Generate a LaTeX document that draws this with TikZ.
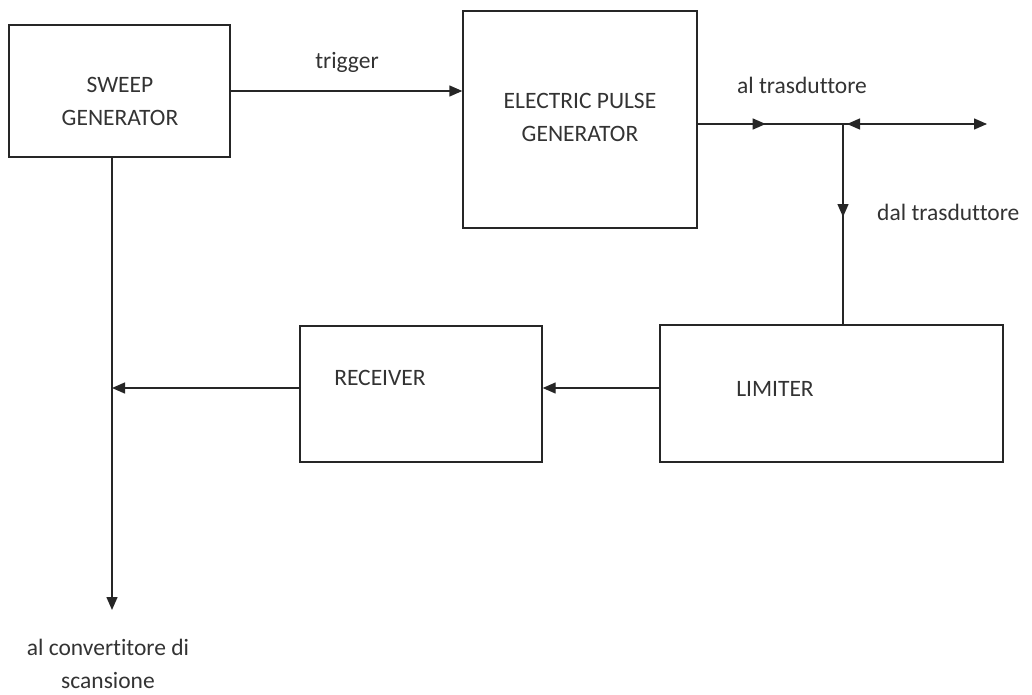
\documentclass[tikz,border=0pt]{standalone}
\usepackage{fontspec}
\setmainfont[Ligatures=NoCommon]{Carlito}
\usetikzlibrary{arrows.meta,decorations.markings}
\begin{document}
\begin{tikzpicture}[x=1pt,y=-1pt,
  box/.style={draw=black!85,line width=1.4pt,inner sep=0pt,minimum width=#1},
  txt/.style={font=\fontsize{23.5}{33}\selectfont,text=black!80,align=center,inner sep=0pt},
  conn/.style={draw=black!85,line width=1.4pt},
  tip/.style={-{Triangle[length=13pt,width=11pt]}},
  midtip/.style={postaction={decorate},decoration={markings,mark=at position #1 with {\arrow{Triangle[length=13pt,width=11pt]}}}},
  midrev/.style={postaction={decorate},decoration={markings,mark=at position #1 with {\arrowreversed{Triangle[length=13pt,width=11pt]}}}}
]
\useasboundingbox (0,0) rectangle (1032,695);
\node[box=221pt,minimum height=132pt] (sweep) at (119.5,91) {};
\node[box=234pt,minimum height=217pt] (epg) at (580,119.5) {};
\node[box=343pt,minimum height=137pt] (limiter) at (831.5,393.5) {};
\node[box=242pt,minimum height=136pt] (receiver) at (421,394) {};
\node[txt] (tsweep) at (120,101) {SWEEP\\GENERATOR};
\node[txt] (tepg) at (580,117) {ELECTRIC PULSE\\GENERATOR};
\node[txt] (tlim) at (775,389) {LIMITER};
\node[txt] (trec) at (380,378) {RECEIVER};
\node[txt] (ttrig) at (347,62) {trigger};
\node[txt] (tal) at (802,85) {al trasduttore};
\node[txt,anchor=west] (tdal) at (877,212) {dal trasduttore};
\node[txt] (tconv) at (108,664) {al convertitore di\\scansione};
\coordinate (j) at (843,124);
\coordinate (out) at (987,124);
\coordinate (m) at (112,388);
\coordinate (bot) at (112,610);
\draw[conn,tip] (sweep.east) -- (sweep.east -| epg.west);
\draw[conn,midtip=68pt] (epg.east |- j) -- (j);
\draw[conn,tip,midrev=4pt] (j) -- (out);
\draw[conn,midtip=93pt] (j) -- (j |- limiter.north);
\draw[conn,tip] (limiter.west |- m) -- (receiver.east |- m);
\draw[conn,tip] (receiver.west |- m) -- (m);
\draw[conn,tip] (m |- sweep.south) -- (bot);
\end{tikzpicture}
\end{document}
